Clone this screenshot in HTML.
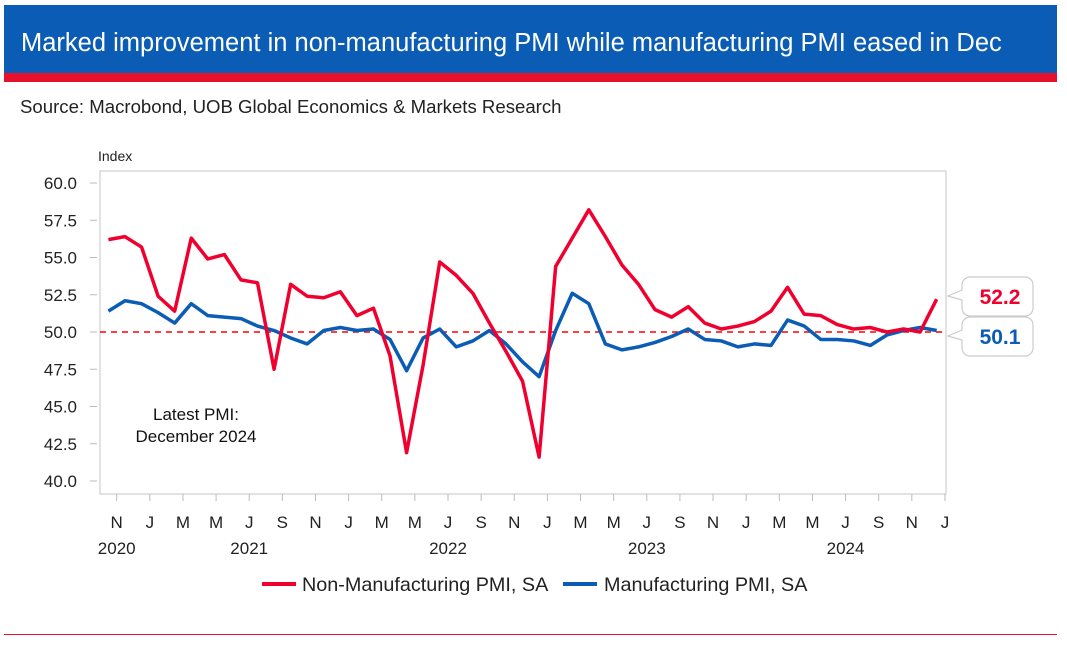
<!DOCTYPE html>
<html><head><meta charset="utf-8"><style>
body{margin:0;background:#fff;width:1067px;height:649px;overflow:hidden;font-family:"Liberation Sans",sans-serif}
#title{position:absolute;left:4px;top:5px;width:1053px;height:68px;background:#0b5cb5;color:#fff;font-size:25.5px;line-height:76px;box-sizing:border-box;padding-left:17px;white-space:nowrap}
#redbar{position:absolute;left:4px;top:73px;width:1053px;height:9px;background:#e8112d}
#source{position:absolute;left:20px;top:96px;font-size:18.6px;color:#222;white-space:nowrap}
#bottomline{position:absolute;left:4px;top:634px;width:1053px;height:1px;background:#e8112d}
svg{position:absolute;left:0;top:0}
</style></head><body>
<div id="title">Marked improvement in non-manufacturing PMI while manufacturing PMI eased in Dec</div>
<div id="redbar"></div>
<div id="source">Source: Macrobond, UOB Global Economics &amp; Markets Research</div>
<div id="bottomline"></div>
<svg id="chart" width="1067" height="649"></svg>
<script>
const nonMfg=[56.2,56.4,55.7,52.4,51.4,56.3,54.9,55.2,53.5,53.3,47.5,53.2,52.4,52.3,52.7,51.1,51.6,48.4,41.9,47.8,54.7,53.8,52.6,50.6,48.7,46.7,41.6,54.4,56.3,58.2,56.4,54.5,53.2,51.5,51.0,51.7,50.6,50.2,50.4,50.7,51.4,53.0,51.2,51.1,50.5,50.2,50.3,50.0,50.2,50.0,52.2];
const mfg=[51.4,52.1,51.9,51.3,50.6,51.9,51.1,51.0,50.9,50.4,50.1,49.6,49.2,50.1,50.3,50.1,50.2,49.5,47.4,49.6,50.2,49.0,49.4,50.1,49.2,48.0,47.0,50.1,52.6,51.9,49.2,48.8,49.0,49.3,49.7,50.2,49.5,49.4,49.0,49.2,49.1,50.8,50.4,49.5,49.5,49.4,49.1,49.8,50.1,50.3,50.1];
const yTicks=[40,42.5,45,47.5,50,52.5,55,57.5,60];
const xTickLabels=["N","J","M","M","J","S","N","J","M","M","J","S","N","J","M","M","J","S","N","J","M","M","J","S","N","J"];
const yearLabels=["2020","2021","2022","2023","2024"];
const NS="http://www.w3.org/2000/svg";
const svg=document.getElementById('chart');
const X0=116.7,MW=16.565;
const xMonth=i=>X0+(i-0.5)*MW;
const yv=v=>183+(60-v)*14.9;
function el(t,a){const e=document.createElementNS(NS,t);for(const k in a)e.setAttribute(k,a[k]);svg.appendChild(e);return e;}
const frame=el('rect',{x:100,y:171,width:846,height:323,fill:'none',stroke:'#d9d9d9','stroke-width':1.5});


const it=el('text',{x:98,y:161,'font-size':14,fill:'#222'});it.textContent='Index';


yTicks.forEach(v=>{
  const t=el('line',{x1:90,x2:97,y1:yv(v),y2:yv(v),stroke:'#bbb','stroke-width':1});
  
  
  const l=el('text',{x:77,y:yv(v)+6,'font-size':17,'text-anchor':'end',fill:'#222'});l.textContent=v.toFixed(1);
  
  
});
xTickLabels.forEach((s,i)=>{
  const x=X0+i*2*MW;
  const t=el('line',{x1:x,x2:x,y1:494,y2:501,stroke:'#bbb','stroke-width':1});
  
  
  const l=el('text',{x:x,y:528,'font-size':17,'text-anchor':'middle',fill:'#222'});l.textContent=s;
  
  
});
yearLabels.forEach((s,i)=>{
  const x=i===0?X0:X0+(8+12*(i-1))*MW;
  const l=el('text',{x:x,y:554,'font-size':17,'text-anchor':'middle',fill:'#222'});l.textContent=s;
  
  
});
const ref=el('line',{x1:100,x2:946,y1:yv(50),y2:yv(50),stroke:'#f00','stroke-width':1.5,'stroke-dasharray':'6,5'});


function series(d,c,n){const p=el('polyline',{points:d.map((v,i)=>xMonth(i)+','+yv(v)).join(' '),fill:'none',stroke:c,'stroke-width':3.5,'stroke-linejoin':'round'});

}
series(mfg,'#0b5cb5','manufacturing-line');
series(nonMfg,'#f0002e','non-manufacturing-line');
const note=el('text',{x:196,y:420,'font-size':17,'text-anchor':'middle',fill:'#111'});note.textContent='Latest PMI:';


const note2=el('text',{x:196,y:442,'font-size':17,'text-anchor':'middle',fill:'#111'});note2.textContent='December 2024';


function callout(v,y,c,n){
  const g=el('path',{d:`M970 ${y-19} h55 a8 8 0 0 1 8 8 v23 a8 8 0 0 1 -8 8 h-55 a8 8 0 0 1 -8 -8 v-8 l-14 -4 l14 -6 v-5 a8 8 0 0 1 8 -8 z`,fill:'#fff',stroke:'#ccc','stroke-width':1.2});
  
  
  const t=el('text',{x:1000,y:y+8,'font-size':21,'font-weight':'bold','text-anchor':'middle',fill:c});t.textContent=v.toFixed(1);
  
  
}
callout(nonMfg[nonMfg.length-1],296,'#f0002e','non-mfg-latest-value');
callout(mfg[mfg.length-1],336,'#0b5cb5','mfg-latest-value');
const l1=el('line',{x1:262,x2:296,y1:584,y2:584,stroke:'#f0002e','stroke-width':4});


const t1=el('text',{x:302,y:591,'font-size':19.8,fill:'#222'});t1.textContent='Non-Manufacturing PMI, SA';


const l2=el('line',{x1:563,x2:597,y1:584,y2:584,stroke:'#0b5cb5','stroke-width':4});


const t2=el('text',{x:604,y:591,'font-size':19.8,fill:'#222'});t2.textContent='Manufacturing PMI, SA';


</script>
</body></html>
